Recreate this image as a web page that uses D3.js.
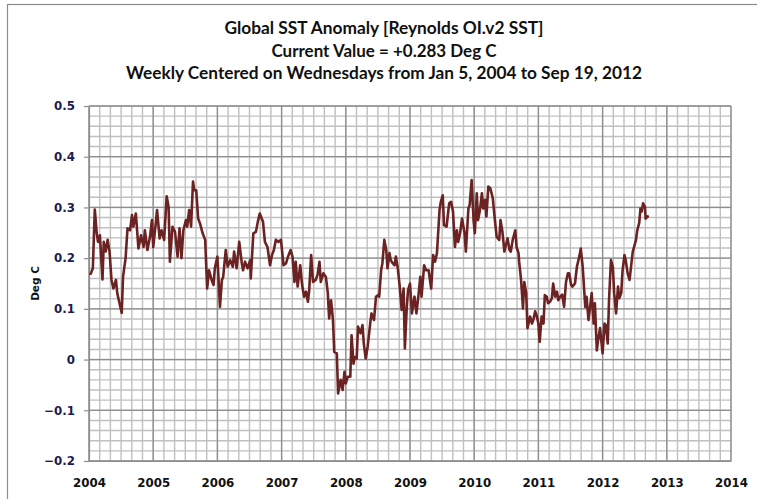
<!DOCTYPE html>
<html>
<head>
<meta charset="utf-8">
<script src="https://cdn.jsdelivr.net/npm/d3@7"></script>
<style>
  body { margin: 0; background: #fff; }
  svg { display: block; }
</style>
</head>
<body>
<div id="chart"></div>
<script>
// weekly values (decimal year, deg C anomaly)
var years = [
  2004.02, 2004.06, 2004.09, 2004.12, 2004.14, 2004.17, 2004.21, 2004.23, 2004.26, 2004.29,
  2004.32, 2004.35, 2004.38, 2004.42, 2004.44, 2004.47, 2004.51, 2004.53, 2004.57, 2004.60,
  2004.64, 2004.67, 2004.69, 2004.73, 2004.77, 2004.81, 2004.85, 2004.87, 2004.91, 2004.95,
  2004.98, 2005.00, 2005.04, 2005.06, 2005.10, 2005.13, 2005.17, 2005.21, 2005.24, 2005.26,
  2005.30, 2005.34, 2005.38, 2005.41, 2005.44, 2005.47, 2005.51, 2005.53, 2005.56, 2005.59,
  2005.62, 2005.64, 2005.67, 2005.70, 2005.73, 2005.77, 2005.81, 2005.84, 2005.87, 2005.91,
  2005.94, 2005.96, 2006.00, 2006.04, 2006.07, 2006.09, 2006.13, 2006.16, 2006.20, 2006.24,
  2006.26, 2006.30, 2006.34, 2006.38, 2006.40, 2006.43, 2006.47, 2006.51, 2006.52, 2006.56,
  2006.60, 2006.63, 2006.66, 2006.69, 2006.71, 2006.74, 2006.78, 2006.82, 2006.85, 2006.88,
  2006.91, 2006.95, 2006.99, 2007.03, 2007.07, 2007.10, 2007.14, 2007.17, 2007.20, 2007.22,
  2007.25, 2007.29, 2007.32, 2007.35, 2007.38, 2007.41, 2007.43, 2007.46, 2007.49, 2007.53,
  2007.56, 2007.59, 2007.61, 2007.65, 2007.69, 2007.72, 2007.74, 2007.77, 2007.80, 2007.82,
  2007.86, 2007.88, 2007.92, 2007.95, 2007.98, 2008.00, 2008.03, 2008.07, 2008.09, 2008.12,
  2008.14, 2008.17, 2008.19, 2008.23, 2008.26, 2008.28, 2008.31, 2008.34, 2008.38, 2008.40,
  2008.44, 2008.47, 2008.50, 2008.52, 2008.55, 2008.57, 2008.60, 2008.63, 2008.65, 2008.68,
  2008.70, 2008.73, 2008.76, 2008.78, 2008.81, 2008.84, 2008.87, 2008.90, 2008.92, 2008.95,
  2008.97, 2009.00, 2009.03, 2009.07, 2009.10, 2009.13, 2009.16, 2009.18, 2009.22, 2009.25,
  2009.29, 2009.33, 2009.36, 2009.39, 2009.42, 2009.46, 2009.48, 2009.51, 2009.53, 2009.57,
  2009.61, 2009.64, 2009.67, 2009.70, 2009.73, 2009.75, 2009.78, 2009.81, 2009.85, 2009.87,
  2009.91, 2009.93, 2009.96, 2009.99, 2010.01, 2010.04, 2010.06, 2010.09, 2010.12, 2010.14,
  2010.17, 2010.19, 2010.22, 2010.25, 2010.29, 2010.32, 2010.35, 2010.39, 2010.41, 2010.44,
  2010.47, 2010.50, 2010.52, 2010.55, 2010.57, 2010.60, 2010.64, 2010.66, 2010.69, 2010.70,
  2010.73, 2010.76, 2010.78, 2010.81, 2010.83, 2010.87, 2010.90, 2010.92, 2010.95, 2010.97,
  2011.00, 2011.02, 2011.05, 2011.08, 2011.10, 2011.13, 2011.15, 2011.18, 2011.21, 2011.23,
  2011.26, 2011.29, 2011.31, 2011.34, 2011.37, 2011.40, 2011.43, 2011.46, 2011.48, 2011.51,
  2011.53, 2011.57, 2011.60, 2011.64, 2011.66, 2011.69, 2011.73, 2011.75, 2011.78, 2011.80,
  2011.83, 2011.86, 2011.88, 2011.91, 2011.93, 2011.96, 2012.00, 2012.03, 2012.05, 2012.08,
  2012.10, 2012.13, 2012.16, 2012.18, 2012.21, 2012.24, 2012.26, 2012.29, 2012.31, 2012.34,
  2012.36, 2012.39, 2012.42, 2012.44, 2012.47, 2012.49, 2012.52, 2012.54, 2012.57, 2012.59,
  2012.61, 2012.63, 2012.66, 2012.67, 2012.70, 2012.72
];
var anomaly = [
  0.167, 0.180, 0.296, 0.250, 0.232, 0.245, 0.158, 0.232, 0.213, 0.236,
  0.213, 0.157, 0.140, 0.157, 0.131, 0.114, 0.092, 0.163, 0.200, 0.259,
  0.255, 0.285, 0.262, 0.288, 0.219, 0.245, 0.222, 0.255, 0.216, 0.242,
  0.275, 0.222, 0.269, 0.295, 0.239, 0.255, 0.236, 0.322, 0.301, 0.193,
  0.262, 0.252, 0.203, 0.259, 0.200, 0.255, 0.275, 0.262, 0.295, 0.262,
  0.351, 0.334, 0.334, 0.278, 0.268, 0.249, 0.236, 0.140, 0.176, 0.157,
  0.147, 0.180, 0.203, 0.104, 0.157, 0.163, 0.216, 0.183, 0.196, 0.183,
  0.213, 0.180, 0.232, 0.190, 0.176, 0.193, 0.180, 0.196, 0.160, 0.249,
  0.252, 0.272, 0.288, 0.278, 0.272, 0.232, 0.222, 0.186, 0.206, 0.216,
  0.236, 0.232, 0.236, 0.186, 0.190, 0.203, 0.216, 0.203, 0.153, 0.193,
  0.144, 0.186, 0.147, 0.124, 0.134, 0.114, 0.137, 0.206, 0.153, 0.157,
  0.167, 0.193, 0.153, 0.170, 0.163, 0.131, 0.081, 0.117, 0.078, 0.015,
  0.012, -0.067, -0.040, -0.060, -0.024, -0.047, -0.034, -0.034, 0.048, -0.008,
  0.005, 0.002, 0.065, 0.052, 0.068, 0.032, 0.002, 0.025, 0.071, 0.091,
  0.078, 0.124, 0.127, 0.124, 0.176, 0.190, 0.236, 0.216, 0.180, 0.210,
  0.196, 0.190, 0.186, 0.203, 0.180, 0.144, 0.098, 0.140, 0.022, 0.104,
  0.137, 0.150, 0.091, 0.124, 0.091, 0.124, 0.163, 0.124, 0.186, 0.176,
  0.176, 0.140, 0.206, 0.193, 0.210, 0.295, 0.311, 0.324, 0.265, 0.262,
  0.308, 0.311, 0.292, 0.222, 0.255, 0.232, 0.249, 0.278, 0.249, 0.213,
  0.298, 0.305, 0.354, 0.275, 0.249, 0.328, 0.275, 0.295, 0.328, 0.298,
  0.315, 0.282, 0.341, 0.338, 0.318, 0.278, 0.242, 0.236, 0.275, 0.252,
  0.213, 0.229, 0.239, 0.216, 0.213, 0.236, 0.255, 0.222, 0.210, 0.193,
  0.157, 0.101, 0.153, 0.131, 0.062, 0.085, 0.071, 0.078, 0.095, 0.088,
  0.071, 0.035, 0.085, 0.071, 0.127, 0.124, 0.111, 0.114, 0.121, 0.150,
  0.124, 0.134, 0.117, 0.124, 0.128, 0.104, 0.153, 0.170, 0.170, 0.147,
  0.144, 0.150, 0.183, 0.205, 0.219, 0.183, 0.104, 0.124, 0.078, 0.098,
  0.131, 0.071, 0.111, 0.018, 0.038, 0.062, 0.012, 0.071, 0.068, 0.032,
  0.117, 0.196, 0.183, 0.131, 0.091, 0.144, 0.121, 0.131, 0.174, 0.206,
  0.196, 0.170, 0.157, 0.180, 0.213, 0.222, 0.236, 0.255, 0.269, 0.298,
  0.292, 0.308, 0.301, 0.278, 0.282, 0.283
];
var yearTicks = [2004, 2005, 2006, 2007, 2008, 2009, 2010, 2011, 2012, 2013, 2014];
var valueTicks = [-0.2, -0.1, 0, 0.1, 0.2, 0.3, 0.4, 0.5];
var titleLines = [
  "Global SST Anomaly [Reynolds OI.v2 SST]",
  "Current Value = +0.283 Deg C",
  "Weekly Centered on Wednesdays from Jan 5, 2004 to Sep 19, 2012"
];

var W = 757, H = 499;
var margin = {top: 106, right: 26, bottom: 38, left: 89},
  width = W - margin.left - margin.right,
  height = H - margin.top - margin.bottom;

var svg = d3.select("#chart")
  .append("svg")
    .attr("width", W)
    .attr("height", H);

// outer chart frame
svg.append("rect")
  .attr("x", 7.5).attr("y", 4.5)
  .attr("width", W).attr("height", H)
  .attr("fill", "none")
  .attr("stroke", "#8c8c8c")
  .attr("stroke-width", 1.2);

var g = svg.append("g")
  .attr("transform", "translate(" + margin.left + "," + margin.top + ")");

var x = d3.scaleLinear().domain([2004, 2014]).range([0, width]);
var y = d3.scaleLinear().domain([-0.2, 0.5]).range([height, 0]);

// minor grid: every 2 months, every 0.02 deg
var minorX = d3.range(0, 61).map(function(i) { return 2004 + i / 6; });
var minorY = d3.range(0, 36).map(function(i) { return -0.2 + i * 0.02; });

g.selectAll(".minor-x")
  .data(minorX)
  .enter().append("line")
    .attr("x1", function(d) { return x(d); })
    .attr("x2", function(d) { return x(d); })
    .attr("y1", 0).attr("y2", height)
    .attr("stroke", "#c0c0c0")
    .attr("stroke-width", 1.4);

g.selectAll(".minor-y")
  .data(minorY)
  .enter().append("line")
    .attr("y1", function(d) { return y(d); })
    .attr("y2", function(d) { return y(d); })
    .attr("x1", 0).attr("x2", width)
    .attr("stroke", "#c0c0c0")
    .attr("stroke-width", 1.4);

// major grid
g.selectAll(".major-x")
  .data(yearTicks)
  .enter().append("line")
    .attr("x1", function(d) { return x(d); })
    .attr("x2", function(d) { return x(d); })
    .attr("y1", 0).attr("y2", height)
    .attr("stroke", "#8e8e8e")
    .attr("stroke-width", 1.3);

g.selectAll(".major-y")
  .data(valueTicks)
  .enter().append("line")
    .attr("y1", function(d) { return y(d); })
    .attr("y2", function(d) { return y(d); })
    .attr("x1", 0).attr("x2", width)
    .attr("stroke", "#8e8e8e")
    .attr("stroke-width", 1.3);

// y axis
var yAxis = g.append("g")
  .call(d3.axisLeft(y).tickValues(valueTicks).tickSize(5).tickPadding(9)
    .tickFormat(function(d) { return d === 0 ? "0" : d3.format(".1f")(d); }));
yAxis.select(".domain").attr("stroke", "#8c8c8c").attr("stroke-width", 1.2);
yAxis.selectAll(".tick line").attr("stroke", "#8c8c8c").attr("stroke-width", 1.2);
yAxis.selectAll("text")
  .attr("fill", "#1c1c50")
  .style("font-family", "'DejaVu Sans', Verdana, sans-serif")
  .style("font-weight", "bold")
  .style("font-size", "11.8px");

// x axis
var xAxis = g.append("g")
  .attr("transform", "translate(0," + height + ")")
  .call(d3.axisBottom(x).tickValues(yearTicks).tickSize(0).tickPadding(18)
    .tickFormat(d3.format("d")));
xAxis.select(".domain").attr("stroke", "#8c8c8c").attr("stroke-width", 1.2);
xAxis.selectAll("text")
  .attr("fill", "#111")
  .style("font-family", "'DejaVu Sans', Verdana, sans-serif")
  .style("font-weight", "bold")
  .style("font-size", "11.8px");

// y axis title
svg.append("text")
  .attr("transform", "translate(39," + (margin.top + height / 2) + ") rotate(-90)")
  .attr("text-anchor", "middle")
  .style("font-family", "'DejaVu Sans', Verdana, sans-serif")
  .style("font-weight", "bold")
  .style("font-size", "10.5px")
  .attr("fill", "#111")
  .text("Deg C");

// the series
var pts = years.map(function(d, i) { return [d, anomaly[i]]; });
var line = d3.line()
  .x(function(d) { return x(d[0]); })
  .y(function(d) { return y(d[1]); });

g.append("path")
  .datum(pts)
  .attr("d", line)
  .attr("fill", "none")
  .attr("stroke", "#6b2222")
  .attr("stroke-width", 2.6)
  .attr("stroke-linejoin", "round");

// titles
var titleBase = [34, 57, 79];
var titleWidth = [319, 225, 516];
svg.selectAll(".title")
  .data(titleLines)
  .enter().append("text")
    .attr("x", 384)
    .attr("y", function(d, i) { return titleBase[i]; })
    .attr("text-anchor", "middle")
    .attr("textLength", function(d, i) { return titleWidth[i]; })
    .attr("lengthAdjust", "spacingAndGlyphs")
    .style("font-family", "Lato, 'Open Sans', sans-serif")
    .style("font-weight", "bold")
    .style("font-size", "16.5px")
    .attr("fill", "#111")
    .text(function(d) { return d; });
</script>
</body>
</html>
